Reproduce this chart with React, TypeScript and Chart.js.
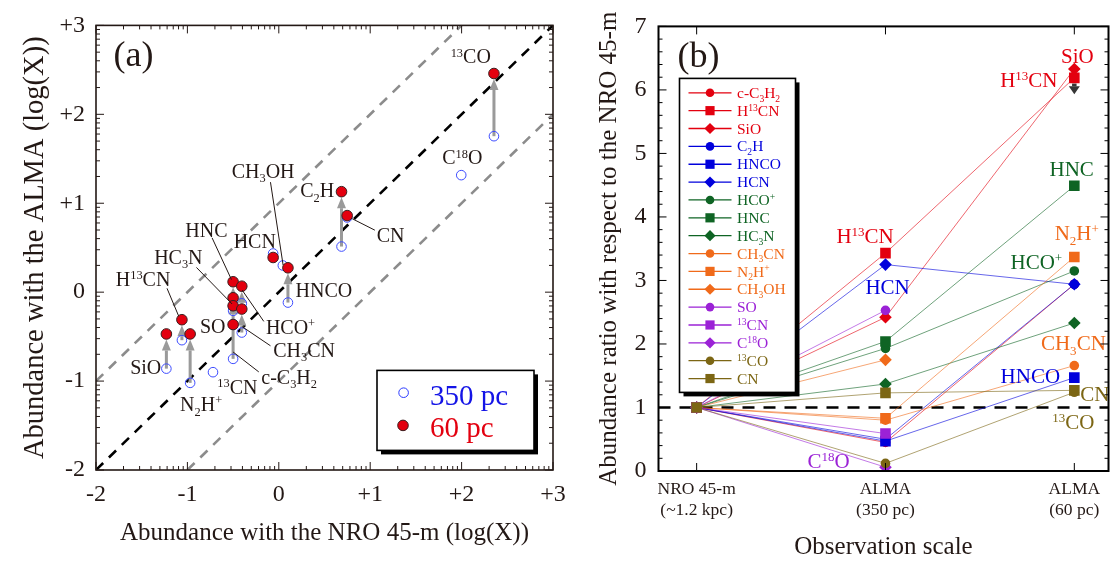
import React, { useEffect, useRef } from "react";
import { Chart, registerables } from "chart.js";
Chart.register(...registerables);

const SERIF = '"Liberation Serif", "Times New Roman", "DejaVu Serif", serif';
const INK = "#231815";

// ---------------- Panel (a) data ----------------
const aSpecies = ["SiO", "H13CN", "N2H+", "13CN", "c-C3H2", "HNC", "HC3N", "SO", "HCO+", "CH3CN", "HCN", "CH3OH", "HNCO", "C2H", "CN", "C18O", "13CO"];
const aNro45m = [-1.23, -1.06, -0.97, -0.72, -0.5, -0.5, -0.5, -0.5, -0.405, -0.405, -0.062, 0.044, 0.1, 0.686, 0.748, 1.996, 2.354];
const aAlma350 = [-0.86, -0.54, -1.02, -0.9, -0.75, -0.21, -0.153, -0.364, -0.125, -0.454, 0.435, 0.3, -0.117, 0.513, 0.84, 1.316, 1.754];
const aAlma60: (number | null)[] = [-0.47, -0.31, -0.47, null, -0.063, 0.117, -0.153, -0.364, 0.067, -0.19, 0.39, null, 0.274, 1.13, 0.861, null, 2.459];
const aTickLabels = ["-2", "-1", "0", "+1", "+2", "+3"];
const aDiagonalOffsets = [0, 1, -1];

// ---------------- Panel (b) data ----------------
const bSpecies = ["c-C_{3}H_{2}", "H^{13}CN", "SiO", "C_{2}H", "HNCO", "HCN", "HCO^{+}", "HNC", "HC_{3}N", "CH_{3}CN", "N_{2}H^{+}", "CH_{3}OH", "SO", "^{13}CN", "C^{18}O", "^{13}CO", "CN"];
const bNro = [1, 1, 1, 1, 1, 1, 1, 1, 1, 1, 1, 1, 1, 1, 1, 1, 1];
const bAlma350 = [0.45, 3.43, 2.42, 0.5, 0.47, 3.25, 1.93, 2.04, 1.37, 0.8, 0.83, 1.75, 2.53, 0.59, 0.06, 0.12, 1.23];
const bAlma60: (number | null)[] = [2.94, 6.19, 6.33, 2.94, 1.47, 2.94, 3.15, 4.49, 2.33, 1.66, 3.37, null, null, null, null, 1.24, 1.27];
const bCategories = [["NRO 45-m", "(~1.2 kpc)"], ["ALMA", "(350 pc)"], ["ALMA", "(60 pc)"]];
const bYTickLabels = ["0", "1", "2", "3", "4", "5", "6", "7"];
const bReference = 1;
const bUpperLimit = { x: 2, from: 6.1, to: 5.93 };

// styles
const RED = "#e3000f", BLUE = "#0000dc", GREEN = "#0f6424", ORANGE = "#f06a1a", PURPLE = "#9b22d6", OLIVE = "#7c6614";
const bColors = [RED, RED, RED, BLUE, BLUE, BLUE, GREEN, GREEN, GREEN, ORANGE, ORANGE, ORANGE, PURPLE, PURPLE, PURPLE, OLIVE, OLIVE];
const bShapes = ["circle", "rect", "rectRot", "circle", "rect", "rectRot", "circle", "rect", "rectRot", "circle", "rect", "rectRot", "circle", "rect", "rectRot", "circle", "rect"];

const aLabels = [
  { t: "^{13}CO", x: 2.1, y: 2.647 },
  { t: "C^{18}O", x: 2.007, y: 1.511 },
  { t: "CH_{3}OH", x: -0.172, y: 1.363, l: [-0.091, 1.237, 0.047, 0.305] },
  { t: "C_{2}H", x: 0.42, y: 1.139 },
  { t: "CN", x: 1.223, y: 0.642, l: [1.051, 0.697, 0.803, 0.826] },
  { t: "HNC", x: -0.792, y: 0.697, l: [-0.73, 0.611, -0.518, 0.141] },
  { t: "HCN", x: -0.263, y: 0.572 },
  { t: "HNCO", x: 0.493, y: 0.023 },
  { t: "HC_{3}N", x: -1.099, y: 0.395, l: [-0.901, 0.278, -0.511, -0.133] },
  { t: "H^{13}CN", x: -1.485, y: 0.141, l: [-1.223, 0.043, -1.095, -0.27] },
  { t: "HCO^{+}", x: 0.128, y: -0.399, l: [-0.164, -0.329, -0.401, 0.023] },
  { t: "SO", x: -0.723, y: -0.388 },
  { t: "CH_{3}CN", x: 0.277, y: -0.65, l: [-0.091, -0.603, -0.401, -0.388] },
  { t: "c-C_{3}H_{2}", x: 0.113, y: -0.955, l: [-0.219, -0.897, -0.5, -0.673] },
  { t: "SiO", x: -1.456, y: -0.846 },
  { t: "^{13}CN", x: -0.453, y: -1.073 },
  { t: "N_{2}H^{+}", x: -0.85, y: -1.261 },
];

const bLabels = [
  { t: "SiO", c: RED, x: 2.016, y: 6.54 },
  { t: "H^{13}CN", c: RED, x: 1.759, y: 6.16 },
  { t: "HNC", c: GREEN, x: 1.986, y: 4.76 },
  { t: "N_{2}H^{+}", c: ORANGE, x: 2.013, y: 3.74 },
  { t: "HCO^{+}", c: GREEN, x: 1.799, y: 3.29 },
  { t: "H^{13}CN", c: RED, x: 0.892, y: 3.7 },
  { t: "HCN", c: BLUE, x: 1.011, y: 2.9 },
  { t: "CH_{3}CN", c: ORANGE, x: 1.995, y: 2.01 },
  { t: "HNCO", c: BLUE, x: 1.767, y: 1.5 },
  { t: "CN", c: OLIVE, x: 2.109, y: 1.21 },
  { t: "^{13}CO", c: OLIVE, x: 1.995, y: 0.77 },
  { t: "C^{18}O", c: PURPLE, x: 0.699, y: 0.15 },
];

// ---------------- helpers ----------------
type Seg = { t: string; k: "n" | "b" | "p" };
function parseRich(s: string): Seg[] {
  const segs: Seg[] = [];
  const re = /([_^])\{([^}]*)\}/g;
  let last = 0;
  let m: RegExpExecArray | null;
  while ((m = re.exec(s))) {
    if (m.index > last) segs.push({ t: s.slice(last, m.index), k: "n" });
    segs.push({ t: m[2], k: m[1] === "_" ? "b" : "p" });
    last = re.lastIndex;
  }
  if (last < s.length) segs.push({ t: s.slice(last), k: "n" });
  return segs;
}
function drawRich(ctx: CanvasRenderingContext2D, s: string, x: number, y: number, size: number, color: string, align: "left" | "center" | "right") {
  const segs = parseRich(s);
  const small = size * 0.62;
  const f = (sz: number) => `${sz}px ${SERIF}`;
  let w = 0;
  for (const sg of segs) {
    ctx.font = f(sg.k === "n" ? size : small);
    w += ctx.measureText(sg.t).width;
  }
  let cx = align === "left" ? x : align === "center" ? x - w / 2 : x - w;
  ctx.fillStyle = color;
  ctx.textAlign = "left";
  ctx.textBaseline = "alphabetic";
  const base = y + size * 0.33;
  for (const sg of segs) {
    const sz = sg.k === "n" ? size : small;
    ctx.font = f(sz);
    const dy = sg.k === "b" ? size * 0.24 : sg.k === "p" ? -size * 0.34 : 0;
    ctx.fillText(sg.t, cx, base + dy);
    cx += ctx.measureText(sg.t).width;
  }
}
function line(ctx: CanvasRenderingContext2D, x1: number, y1: number, x2: number, y2: number) {
  ctx.beginPath();
  ctx.moveTo(x1, y1);
  ctx.lineTo(x2, y2);
  ctx.stroke();
}
function drawMarker(ctx: CanvasRenderingContext2D, style: string, x: number, y: number, r: number, fill: string) {
  ctx.fillStyle = fill;
  ctx.beginPath();
  if (style === "circle") ctx.arc(x, y, r, 0, Math.PI * 2);
  else if (style === "rect") ctx.rect(x - r, y - r, 2 * r, 2 * r);
  else {
    ctx.moveTo(x, y - r);
    ctx.lineTo(x + r, y);
    ctx.lineTo(x, y + r);
    ctx.lineTo(x - r, y);
    ctx.closePath();
  }
  ctx.fill();
}
function alpha(hex: string, a: number) {
  const n = parseInt(hex.slice(1), 16);
  return `rgba(${(n >> 16) & 255},${(n >> 8) & 255},${n & 255},${a})`;
}
function upArrow(ctx: CanvasRenderingContext2D, x: number, y0: number, tip: number, shaft: number, headLen: number, headHalf: number, color: string) {
  const dir = tip < y0 ? -1 : 1;
  const base = tip - dir * headLen;
  ctx.fillStyle = color;
  ctx.fillRect(x - shaft / 2, Math.min(y0, base), shaft, Math.abs(base - y0));
  ctx.beginPath();
  ctx.moveTo(x, tip);
  ctx.lineTo(x - headHalf, base);
  ctx.lineTo(x + headHalf, base);
  ctx.closePath();
  ctx.fill();
}

// ---------------- plugins ----------------
const panelAPlugin = {
  id: "panelA",
  beforeDatasetsDraw(chart: any) {
    const { ctx, chartArea: ca, scales } = chart;
    const x = scales.x, y = scales.y;
    ctx.save();
    ctx.beginPath();
    ctx.rect(ca.left, ca.top, ca.right - ca.left, ca.bottom - ca.top);
    ctx.clip();
    ctx.lineWidth = 2.6;
    ctx.setLineDash([10, 8]);
    for (const off of aDiagonalOffsets) {
      ctx.strokeStyle = off === 0 ? "#000" : "#8c8c8c";
      const x0 = Math.max(x.min, y.min - off), x1 = Math.min(x.max, y.max - off);
      line(ctx, x.getPixelForValue(x0), y.getPixelForValue(x0 + off), x.getPixelForValue(x1), y.getPixelForValue(x1 + off));
    }
    ctx.setLineDash([]);
    for (let i = 0; i < aNro45m.length; i++) {
      const v60 = aAlma60[i];
      if (v60 === null || v60 - aAlma350[i] < 0.08) continue;
      const px = x.getPixelForValue(aNro45m[i]);
      const p0 = y.getPixelForValue(aAlma350[i]);
      const p1 = y.getPixelForValue(v60) + 5.5;
      upArrow(ctx, px, p0, p1, 3, 11, 4.5, "#9a9a9a");
    }
    ctx.restore();
  },
  afterDatasetsDraw(chart: any) {
    const { ctx, chartArea: ca, scales } = chart;
    const x = scales.x, y = scales.y;
    ctx.save();
    ctx.strokeStyle = INK;
    ctx.lineWidth = 1;
    for (const lb of aLabels) {
      if (lb.l) line(ctx, x.getPixelForValue(lb.l[0]), y.getPixelForValue(lb.l[1]), x.getPixelForValue(lb.l[2]), y.getPixelForValue(lb.l[3]));
      drawRich(ctx, lb.t, x.getPixelForValue(lb.x), y.getPixelForValue(lb.y), 20, INK, "center");
    }
    ctx.font = `36px ${SERIF}`;
    ctx.fillStyle = INK;
    ctx.textAlign = "center";
    ctx.textBaseline = "middle";
    ctx.fillText("(a)", ca.left + 37.5, ca.top + 31);
    const L = ca.left + 281, T = ca.top + 345, W = 157, H = 80;
    ctx.fillStyle = "#000";
    ctx.fillRect(L + 4, T + 4, W, H);
    ctx.fillStyle = "#fff";
    ctx.fillRect(L, T, W, H);
    ctx.strokeStyle = "#000";
    ctx.lineWidth = 1.6;
    ctx.strokeRect(L, T, W, H);
    ctx.beginPath();
    ctx.arc(L + 26.6, T + 22.3, 4.8, 0, Math.PI * 2);
    ctx.strokeStyle = "#2b3bff";
    ctx.lineWidth = 1;
    ctx.stroke();
    ctx.beginPath();
    ctx.arc(L + 26, T + 55, 5.3, 0, Math.PI * 2);
    ctx.fillStyle = "#e3000f";
    ctx.fill();
    ctx.strokeStyle = "#3b1e1e";
    ctx.stroke();
    drawRich(ctx, chart.data.datasets[1].label, L + 53, T + 24.6, 29, "#1414e6", "left");
    drawRich(ctx, chart.data.datasets[0].label, L + 53, T + 56.6, 29, "#e3000f", "left");
    ctx.strokeStyle = INK;
    ctx.lineWidth = 1;
    const majors = [-2, -1, 0, 1, 2, 3];
    const minors: number[] = [];
    for (let d = -2; d < 3; d++) for (let k = 2; k <= 9; k++) minors.push(d + Math.log10(k));
    const marks = majors.map((v) => ({ v, len: 8 })).concat(minors.map((v) => ({ v, len: 4 })));
    for (const t of marks) {
      const px = x.getPixelForValue(t.v);
      line(ctx, px, ca.bottom, px, ca.bottom - t.len);
      line(ctx, px, ca.top, px, ca.top + t.len);
      const py = y.getPixelForValue(t.v);
      line(ctx, ca.left, py, ca.left + t.len, py);
      line(ctx, ca.right, py, ca.right - t.len, py);
    }
    ctx.lineWidth = 1.6;
    ctx.strokeRect(ca.left, ca.top, ca.right - ca.left, ca.bottom - ca.top);
    ctx.restore();
  },
};

const panelBPlugin = {
  id: "panelB",
  beforeDatasetsDraw(chart: any) {
    const { ctx, chartArea: ca, scales } = chart;
    const x = scales.x, y = scales.y;
    ctx.save();
    ctx.strokeStyle = "#000";
    ctx.lineWidth = 2.6;
    ctx.setLineDash([12, 9]);
    const py = y.getPixelForValue(bReference);
    line(ctx, ca.left, py, ca.right, py);
    ctx.setLineDash([]);
    upArrow(ctx, x.getPixelForValue(bUpperLimit.x), y.getPixelForValue(bUpperLimit.from), y.getPixelForValue(bUpperLimit.to), 4.5, 8, 5.5, "#363636");
    ctx.restore();
  },
  afterDatasetsDraw(chart: any) {
    const { ctx, chartArea: ca, scales } = chart;
    const x = scales.x, y = scales.y;
    ctx.save();
    for (const lb of bLabels) drawRich(ctx, lb.t, x.getPixelForValue(lb.x), y.getPixelForValue(lb.y), 21, lb.c, "center");
    ctx.font = `36px ${SERIF}`;
    ctx.fillStyle = INK;
    ctx.textAlign = "center";
    ctx.textBaseline = "middle";
    ctx.fillText("(b)", ca.left + 40, ca.top + 31);
    const L = ca.left + 21, T = ca.top + 52, W = 116, H = 314;
    ctx.fillStyle = "#000";
    ctx.fillRect(L + 4, T + 4, W, H);
    ctx.fillStyle = "#fff";
    ctx.fillRect(L, T, W, H);
    ctx.strokeStyle = "#000";
    ctx.lineWidth = 1.6;
    ctx.strokeRect(L, T, W, H);
    chart.data.datasets.forEach((ds: any, i: number) => {
      const ry = T + 14.4 + i * 17.86;
      ctx.strokeStyle = bColors[i];
      ctx.lineWidth = 1.3;
      line(ctx, L + 9, ry, L + 52, ry);
      const r = bShapes[i] === "circle" ? 4.3 : bShapes[i] === "rect" ? 4.6 : 5.6;
      drawMarker(ctx, bShapes[i], L + 30.5, ry, r, bColors[i]);
      drawRich(ctx, ds.label, L + 57.5, ry, 15.5, bColors[i], "left");
    });
    ctx.strokeStyle = "#000";
    ctx.lineWidth = 1;
    for (let v = 0; v <= 7.001; v += 0.2) {
      const major = Math.abs(v - Math.round(v)) < 1e-6;
      const len = major ? 8 : 4;
      const py = y.getPixelForValue(v);
      line(ctx, ca.left, py, ca.left + len, py);
      line(ctx, ca.right, py, ca.right - len, py);
    }
    for (let c = 0; c < bCategories.length; c++) {
      const px = x.getPixelForValue(c);
      line(ctx, px, ca.bottom, px, ca.bottom - 8);
      line(ctx, px, ca.top, px, ca.top + 8);
    }
    ctx.lineWidth = 2;
    ctx.strokeRect(ca.left, ca.top, ca.right - ca.left, ca.bottom - ca.top);
    ctx.restore();
  },
};

// ---------------- configs ----------------
function configA(): any {
  return {
    type: "scatter",
    data: {
      datasets: [
        {
          label: "60 pc",
          data: aNro45m.map((x, i) => ({ x, y: aAlma60[i] })).filter((p) => p.y !== null),
          pointStyle: "circle",
          pointRadius: 5.3,
          pointBackgroundColor: "#e3000f",
          pointBorderColor: "#3b1e1e",
          pointBorderWidth: 1,
          order: 0,
        },
        {
          label: "350 pc",
          data: aNro45m.map((x, i) => ({ x, y: aAlma350[i] })),
          pointStyle: "circle",
          pointRadius: 4.8,
          pointBackgroundColor: "rgba(255,255,255,0)",
          pointBorderColor: "#3d4cff",
          pointBorderWidth: 1,
          order: 1,
        },
      ],
    },
    options: {
      animation: false,
      responsive: true,
      maintainAspectRatio: false,
      events: [],
      layout: { padding: { left: 15, right: 27, top: 13, bottom: 11 } },
      plugins: { legend: { display: false }, tooltip: { enabled: false } },
      scales: {
        x: {
          type: "linear",
          min: -2,
          max: 3,
          afterFit: (s: any) => { s.height = 82; },
          grid: { display: false, drawTicks: false },
          border: { display: false },
          ticks: { stepSize: 1, padding: 10, maxRotation: 0, color: INK, font: { family: SERIF, size: 24 }, callback: (v: number) => aTickLabels[Math.round(v) + 2] },
          title: { display: true, text: "Abundance with the NRO 45-m (log(X))", color: INK, font: { family: SERIF, size: 25 }, padding: { top: 4, bottom: 4 } },
        },
        y: {
          type: "linear",
          min: -2,
          max: 3,
          afterFit: (s: any) => { s.width = 81; },
          grid: { display: false, drawTicks: false },
          border: { display: false },
          ticks: { stepSize: 1, padding: 11, color: INK, font: { family: SERIF, size: 24 }, callback: (v: number) => aTickLabels[Math.round(v) + 2] },
          title: { display: true, text: "Abundance with the ALMA (log(X))", color: INK, font: { family: SERIF, size: 28.5 }, padding: { top: 3, bottom: 3 } },
        },
      },
    },
    plugins: [panelAPlugin],
  };
}

function configB(): any {
  const datasets = bSpecies.map((name, i) => {
    const shape = bShapes[i];
    return {
      label: name,
      data: [
        { x: 0, y: bNro[i] },
        { x: 1, y: bAlma350[i] },
        { x: 2, y: bAlma60[i] },
      ],
      borderColor: alpha(bColors[i], 0.6),
      borderWidth: 1,
      pointStyle: shape,
      pointRadius: shape === "circle" ? 4.8 : shape === "rect" ? 7.5 : 6.3,
      pointBackgroundColor: bColors[i],
      pointBorderColor: bColors[i],
      pointBorderWidth: 0,
      showLine: true,
      spanGaps: false,
      order: bSpecies.length - i,
    };
  });
  return {
    type: "scatter",
    data: { datasets },
    options: {
      animation: false,
      responsive: true,
      maintainAspectRatio: false,
      events: [],
      layout: { padding: { left: 10, right: 4, top: 13, bottom: 1 } },
      plugins: { legend: { display: false }, tooltip: { enabled: false } },
      scales: {
        x: {
          type: "linear",
          min: -0.202,
          max: 2.181,
          afterFit: (s: any) => { s.height = 91; },
          afterBuildTicks: (s: any) => { s.ticks = bCategories.map((_, i) => ({ value: i })); },
          grid: { display: false, drawTicks: false },
          border: { display: false },
          ticks: { padding: 7.5, maxRotation: 0, autoSkip: false, color: INK, font: { family: SERIF, size: 17.5 }, callback: (v: number) => bCategories[Math.round(v)] },
          title: { display: true, text: "Observation scale", color: INK, font: { family: SERIF, size: 25 }, padding: { top: 4, bottom: 0 } },
        },
        y: {
          type: "linear",
          min: 0,
          max: 7,
          afterFit: (s: any) => { s.width = 68.5; },
          grid: { display: false, drawTicks: false },
          border: { display: false },
          ticks: { stepSize: 1, padding: 12, color: INK, font: { family: SERIF, size: 24 }, callback: (v: number) => bYTickLabels[Math.round(v)] },
          title: { display: true, text: "Abundance ratio with respect to the NRO 45-m", color: INK, font: { family: SERIF, size: 25 }, padding: { top: 4, bottom: 4 } },
        },
      },
    },
    plugins: [panelBPlugin],
  };
}

export default function App() {
  const refA = useRef<HTMLCanvasElement>(null);
  const refB = useRef<HTMLCanvasElement>(null);
  useEffect(() => {
    const ca = new Chart(refA.current!, configA());
    const cb = new Chart(refB.current!, configB());
    return () => {
      ca.destroy();
      cb.destroy();
    };
  }, []);
  return (
    <div style={{ position: "absolute", left: 0, top: 0, width: 1116, height: 563, background: "#fff" }}>
      <div style={{ position: "absolute", left: 0, top: 0, width: 580, height: 563 }}>
        <canvas ref={refA} />
      </div>
      <div style={{ position: "absolute", left: 580, top: 0, width: 536, height: 563 }}>
        <canvas ref={refB} />
      </div>
    </div>
  );
}
